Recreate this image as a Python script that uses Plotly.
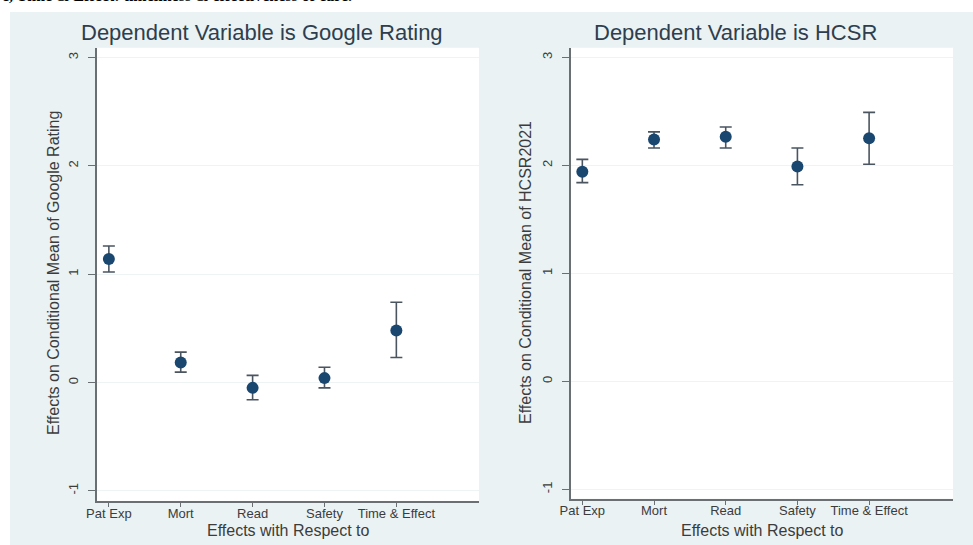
import plotly.graph_objects as go

W, H = 973, 545

categories = ["Pat Exp", "Mort", "Read", "Safety", "Time & Effect"]
cat_pos = [1, 2, 3, 4, 5]

google_mean = [1.14, 0.185, -0.05, 0.04, 0.48]
google_hi = [1.26, 0.28, 0.065, 0.14, 0.74]
google_lo = [1.02, 0.095, -0.16, -0.05, 0.23]

hcsr_mean = [1.94, 2.24, 2.265, 1.99, 2.25]
hcsr_hi = [2.055, 2.31, 2.355, 2.16, 2.49]
hcsr_lo = [1.84, 2.16, 2.16, 1.82, 2.01]

y_ticks = [-1, 0, 1, 2, 3]

titles = ["Dependent Variable is Google Rating", "Dependent Variable is HCSR"]
y_titles = ["Effects on Conditional Mean of Google Rating",
            "Effects on Conditional Mean of HCSR2021"]
x_title = "Effects with Respect to"
top_caption = "e, Time & Effect: timeliness & effectiveness of care."

BG = "#eaf2f3"
NAVY = "#1a476f"
BAR = "#4a5560"
AX = "#6a6f73"
TXT = "#3c3c3c"
FONT = "Liberation Sans, Arial, sans-serif"

def px(x):
    return x / W

def py(y):
    return 1 - y / H

fig = go.Figure()

series = [(google_mean, google_hi, google_lo, "x", "y"),
          (hcsr_mean, hcsr_hi, hcsr_lo, "x2", "y2")]
for m, hi, lo, xa, ya in series:
    fig.add_trace(go.Scatter(
        x=cat_pos, y=m, mode="markers", xaxis=xa, yaxis=ya,
        marker=dict(color=NAVY, size=12),
        error_y=dict(type="data", symmetric=False,
                     array=[h - v for h, v in zip(hi, m)],
                     arrayminus=[v - l for v, l in zip(m, lo)],
                     color=BAR, thickness=1.6, width=6),
        showlegend=False, hoverinfo="skip"))

# panel background and white plot regions
fig.add_shape(type="rect", xref="paper", yref="paper",
              x0=px(10), x1=1, y0=0, y1=py(12),
              fillcolor=BG, line_width=0, layer="below")
fig.add_shape(type="rect", xref="paper", yref="paper",
              x0=px(97), x1=px(479), y0=py(501.3), y1=py(47.7),
              fillcolor="white", line_width=0, layer="below")
fig.add_shape(type="rect", xref="paper", yref="paper",
              x0=px(571), x1=px(953), y0=py(498.7), y1=py(47.7),
              fillcolor="white", line_width=0, layer="below")

xcommon = dict(tickvals=cat_pos, ticktext=categories, showgrid=False,
               zeroline=False, showline=True, linecolor=AX, linewidth=1.6,
               ticks="outside", ticklen=4, tickcolor=AX, tickwidth=1.2,
               ticklabelstandoff=-5,
               automargin=False,
               tickfont=dict(family=FONT, size=13, color=TXT))
ycommon = dict(tickvals=y_ticks, ticktext=[str(t) for t in y_ticks],
               tickangle=-90, showgrid=True, gridcolor="#eef3f4", gridwidth=1,
               zeroline=False, showline=True, linecolor=AX, linewidth=1.6,
               ticks="outside", ticklen=7, tickcolor=AX, tickwidth=1.2,
               ticklabelstandoff=5,
               automargin=False,
               tickfont=dict(family=FONT, size=13, color=TXT))

fig.update_layout(
    width=W, height=H,
    margin=dict(l=0, r=0, t=0, b=0),
    paper_bgcolor="white", plot_bgcolor="rgba(0,0,0,0)",
    xaxis=dict(domain=[px(97), px(479)], range=[0.835, 6.15], anchor="y", **xcommon),
    yaxis=dict(domain=[py(501.3), py(47.7)], range=[-1.097, 3.09], anchor="x", **ycommon),
    xaxis2=dict(domain=[px(571), px(953)], range=[0.842, 6.17], anchor="y2", **xcommon),
    yaxis2=dict(domain=[py(498.7), py(47.7)], range=[-1.087, 3.089], anchor="x2", **ycommon),
)

# panel titles
for t, cx in zip(titles, [262, 735]):
    fig.add_annotation(text=t, xref="paper", yref="paper",
                       x=px(cx), y=py(33), xanchor="center", yanchor="middle",
                       showarrow=False,
                       font=dict(family=FONT, size=22, color="#2e3e4e"))
# axis titles
for cx in [288, 762]:
    fig.add_annotation(text=x_title, xref="paper", yref="paper",
                       x=px(cx), y=py(530), xanchor="center", yanchor="middle",
                       showarrow=False,
                       font=dict(family=FONT, size=16, color=TXT))
for t, cx in zip(y_titles, [53, 525]):
    fig.add_annotation(text=t, xref="paper", yref="paper", textangle=-90,
                       x=px(cx), y=py(273), xanchor="center", yanchor="middle",
                       showarrow=False,
                       font=dict(family=FONT, size=16, color=TXT))

fig.add_annotation(text="<b>" + top_caption + "</b>", xref="paper", yref="paper",
                   x=0, y=1, xanchor="left", yanchor="middle", yshift=5,
                   showarrow=False,
                   font=dict(family="Liberation Serif, Times New Roman, serif",
                             size=16, color="black"))

fig.write_html("out.html", config={"displayModeBar": False},
               post_script="document.body.style.margin='0';")
